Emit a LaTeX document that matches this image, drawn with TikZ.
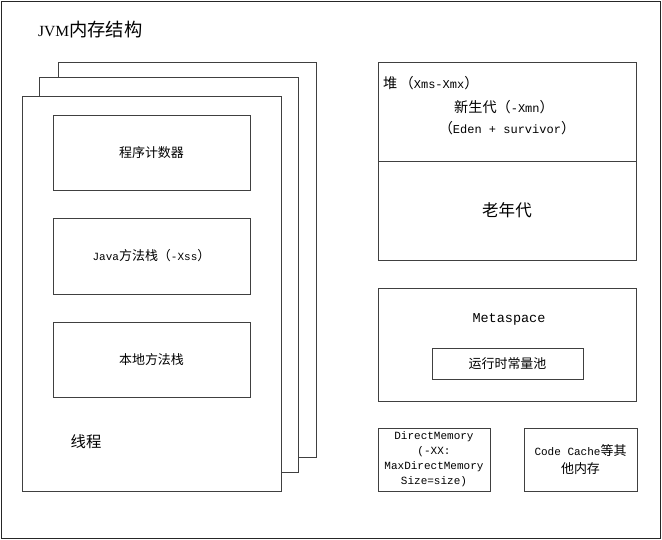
\documentclass[tikz,border=0pt]{standalone}
\usepackage{fontspec}
\setmainfont{Liberation Mono}
\newfontfamily\cjk[Scale=1.18]{Noto Sans CJK SC}
\newfontfamily\titleserif{Liberation Serif}
\usetikzlibrary{positioning}
\newcommand{\zh}[1]{{\cjk #1}}
\tikzset{%
  % boxes
  area/.style={draw=black!75, line width=0.8pt, fill=white, inner sep=0pt,
    outer sep=0pt, anchor=north west, align=center},
  thread/.style={area},
  part/.style={area, font=\fontsize{11}{15}\selectfont},
  % texts
  label/.style={inner sep=0pt, font=\fontsize{11}{15}\selectfont},
  heaplabel/.style={label, font=\fontsize{12}{15}\selectfont},
}
\begin{document}
\begin{tikzpicture}[x=1pt, y=-1pt]
  \useasboundingbox (0,0) rectangle (662,540);
  \node[area, draw=black!85, minimum width=659pt, minimum height=537pt] (frame) at (1,1) {};
  \node[label, anchor=west, font=\fontsize{15.5}{20}\selectfont] (title) at (38,30)
    {{\titleserif JVM}\zh{内存结构}};

  % thread stacks
  \node[thread, minimum width=258pt, minimum height=395pt] (back) at (58,62) {};
  \node[thread, minimum width=259pt, minimum height=395pt] (middle) at (39,77) {};
  \node[thread, minimum width=259pt, minimum height=395pt] (front) at (22,96) {};
  \node[part, minimum width=197pt, minimum height=75pt] (pc) at (53,115) {\zh{程序计数器}};
  \node[part, minimum width=197pt, minimum height=76pt] (javastack) at (53,218)
    {Java\zh{方法栈（}-Xss\zh{）}};
  \node[part, minimum width=197pt, minimum height=75pt] (nativestack) at (53,322) {\zh{本地方法栈}};
  \node[label, font=\fontsize{13}{15}\selectfont] (threadtext) at (86,442) {\zh{线程}};

  % heap
  \node[area, minimum width=258pt, minimum height=99pt] (young) at (378,62) {};
  \node[part, font=\fontsize{14}{15}\selectfont, minimum width=258pt, minimum height=99pt]
    (old) at (378,161) {\zh{老年代}};
  \node[heaplabel, anchor=west] (heaptext) at (383,83) {\zh{堆\,（}Xms-Xmx\zh{）}};
  \node[heaplabel] (newgen) at (504,107) {\zh{新生代（}-Xmn\zh{）}};
  \node[heaplabel] (eden) at (507,128) {\zh{（}Eden + survivor\zh{）}};

  % metaspace
  \node[area, minimum width=258pt, minimum height=113pt] (meta) at (378,288) {};
  \node[label, font=\fontsize{13.5}{15}\selectfont] (metatext) at (509,319) {Metaspace};
  \node[part, minimum width=151pt, minimum height=31pt] (pool) at (432,348) {\zh{运行时常量池}};

  % other memory
  \node[part, minimum width=112pt, minimum height=63pt] (direct) at (378,428)
    {DirectMemory\\(-XX:\\MaxDirectMemory\\Size=size)};
  \node[part, font=\fontsize{11}{18}\selectfont, minimum width=113pt, minimum height=63pt]
    (codecache) at (524,428) {Code Cache\zh{等其}\\\zh{他内存}};
\end{tikzpicture}
\end{document}
